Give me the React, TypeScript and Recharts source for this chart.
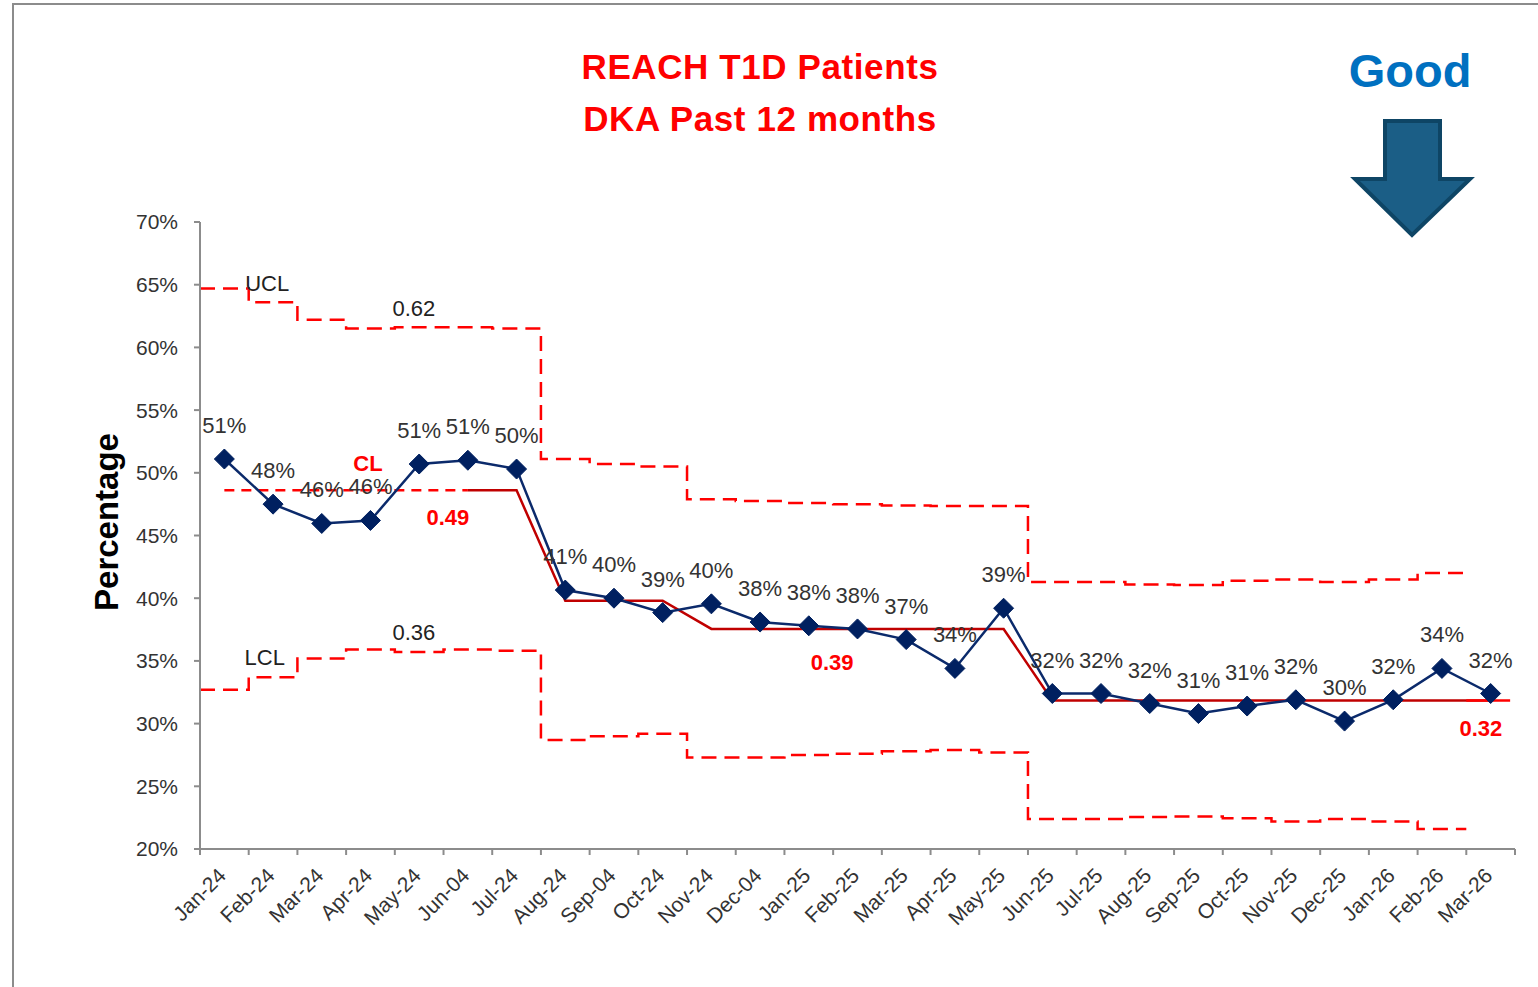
import React from 'react';
import { LineChart, Line, XAxis, YAxis, LabelList, ReferenceDot } from 'recharts';

// ---------- data ----------
const months = ['Jan-24', 'Feb-24', 'Mar-24', 'Apr-24', 'May-24', 'Jun-04', 'Jul-24', 'Aug-24', 'Sep-04', 'Oct-24', 'Nov-24', 'Dec-04', 'Jan-25', 'Feb-25', 'Mar-25', 'Apr-25', 'May-25', 'Jun-25', 'Jul-25', 'Aug-25', 'Sep-25', 'Oct-25', 'Nov-25', 'Dec-25', 'Jan-26', 'Feb-26', 'Mar-26'];
const percentages = [51.1, 47.5, 45.96, 46.2, 50.7, 51.0, 50.3, 40.65, 40.0, 38.85, 39.55, 38.1, 37.8, 37.55, 36.7, 34.4, 39.2, 32.4, 32.4, 31.6, 30.8, 31.4, 31.9, 30.2, 31.9, 34.4, 32.4];
// control limits (no limit plotted for the last month)
const ucl = [64.7, 63.6, 62.2, 61.5, 61.6, 61.6, 61.5, 51.1, 50.7, 50.5, 47.9, 47.75, 47.6, 47.5, 47.4, 47.35, 47.35, 41.3, 41.3, 41.1, 41.05, 41.4, 41.5, 41.3, 41.5, 42.0];
const lcl = [32.7, 33.7, 35.2, 35.9, 35.7, 35.9, 35.8, 28.7, 29.0, 29.2, 27.3, 27.3, 27.5, 27.6, 27.8, 27.9, 27.7, 22.4, 22.4, 22.55, 22.6, 22.45, 22.2, 22.4, 22.2, 21.6];
const centerLine = [48.6, 48.6, 48.6, 48.6, 48.6, 48.6, 48.6, 39.8, 39.8, 39.8, 37.55, 37.55, 37.55, 37.55, 37.55, 37.55, 37.55, 31.85, 31.85, 31.85, 31.85, 31.85, 31.85, 31.85, 31.85, 31.85, 31.85];
const yTicks = [20, 25, 30, 35, 40, 45, 50, 55, 60, 65, 70];
const solidCLStart = 5; // CL drawn solid from Jun-04
const annotations = [
  { text: 'UCL', x: 1.38, y: 65.06, color: '#222', bold: false },
  { text: '0.62', x: 4.39, y: 63.14, color: '#222', bold: false },
  { text: 'CL', x: 3.45, y: 50.78, color: '#FF0000', bold: true },
  { text: '0.49', x: 5.09, y: 46.4, color: '#FF0000', bold: true },
  { text: 'LCL', x: 1.33, y: 35.3, color: '#222', bold: false },
  { text: '0.36', x: 4.39, y: 37.3, color: '#222', bold: false },
  { text: '0.39', x: 12.98, y: 34.9, color: '#FF0000', bold: true },
  { text: '0.32', x: 26.3, y: 29.57, color: '#FF0000', bold: true },
];

// ---------- derived series ----------
const mainData = percentages.map((v, i) => ({ x: i + 0.5, y: v }));
const stepRows = (arr: number[]) => [
  ...arr.map((v, i) => ({ x: i, y: v })),
  { x: arr.length, y: arr[arr.length - 1] },
];
const uclData = stepRows(ucl);
const lclData = stepRows(lcl);
const clDashed = centerLine.slice(0, solidCLStart + 1).map((v, i) => ({ x: i + 0.5, y: v }));
const clSolid = centerLine.map((v, i) => ({ x: i + 0.5, y: v })).slice(solidCLStart);
const clEnd = [
  { x: months.length - 1, y: centerLine[centerLine.length - 1] },
  { x: months.length - 0.1, y: centerLine[centerLine.length - 1] },
];
const xTicks = Array.from({ length: months.length + 1 }, (_, i) => i);

// ---------- layout ----------
const W = 1538;
const H = 987;
const MARGIN = { top: 222, right: 23, bottom: 48, left: 140 };
const Y_AXIS_W = 60;
const X_AXIS_H = 90;
const PLOT_W = W - MARGIN.left - MARGIN.right - Y_AXIS_W;
const HALF_BAND = PLOT_W / months.length / 2;
const FONT = '"Liberation Sans", Arial, sans-serif';

const XTick = (props: any) => {
  const { x, y, payload } = props;
  const i = payload.value;
  if (i >= months.length) return <g />;
  return (
    <g transform={`translate(${x + HALF_BAND + 3},${y + 20})`}>
      <text x={0} y={0} textAnchor="end" transform="rotate(-45)" fontSize={21} fill="#333" fontFamily={FONT}>
        {months[i]}
      </text>
    </g>
  );
};

const Diamond = (props: any) => {
  const { cx, cy, index } = props;
  if (cx == null || cy == null) return <g key={`d-${index}`} />;
  const r = 10;
  return (
    <path
      key={`d-${index}`}
      d={`M${cx},${cy - r}L${cx + r},${cy}L${cx},${cy + r}L${cx - r},${cy}Z`}
      fill="#002060"
      stroke="#002060"
    />
  );
};

export default function App() {
  return (
    <div style={{ position: 'fixed', left: 0, top: 0, width: W, height: H, overflow: 'hidden', background: '#fff' }}>
      <div style={{ position: 'absolute', left: 0, top: 0 }}>
        <LineChart width={W} height={H} margin={MARGIN}>
          <XAxis
            type="number"
            dataKey="x"
            domain={[0, months.length]}
            ticks={xTicks}
            interval={0}
            allowDataOverflow
            height={X_AXIS_H}
            stroke="#8c8c8c"
            strokeWidth={2}
            tickSize={6}
            tick={<XTick />}
          />
          <YAxis
            type="number"
            domain={[20, 70]}
            ticks={yTicks}
            interval={0}
            width={Y_AXIS_W}
            stroke="#8c8c8c"
            strokeWidth={2}
            tickSize={6}
            tickMargin={16}
            tickFormatter={(v: number) => `${v}%`}
            tick={{ fontSize: 21, fill: '#333', fontFamily: FONT }}
            allowDataOverflow
          />
          <Line data={uclData} dataKey="y" type="stepAfter" stroke="#FF0000" strokeWidth={2.5} strokeDasharray="15 8" dot={false} isAnimationActive={false} />
          <Line data={lclData} dataKey="y" type="stepAfter" stroke="#FF0000" strokeWidth={2.5} strokeDasharray="15 8" dot={false} isAnimationActive={false} />
          <Line data={clDashed} dataKey="y" type="linear" stroke="#FF0000" strokeWidth={2.5} strokeDasharray="10 7" dot={false} isAnimationActive={false} />
          <Line data={clSolid} dataKey="y" type="linear" stroke="#C00000" strokeWidth={2.5} dot={false} isAnimationActive={false} />
          <Line data={clEnd} dataKey="y" type="linear" stroke="#FF0000" strokeWidth={2.5} dot={false} isAnimationActive={false} />
          <Line data={mainData} dataKey="y" type="linear" stroke="#0B2A6B" strokeWidth={2.5} dot={<Diamond />} isAnimationActive={false}>
            <LabelList
              dataKey="y"
              position="top"
              offset={26}
              formatter={(v: any) => `${Math.round(Number(v))}%`}
              style={{ fontSize: 22, fill: '#333', fontFamily: FONT }}
            />
          </Line>
          {annotations.map((a) => (
            <ReferenceDot
              key={a.text}
              x={a.x}
              y={a.y}
              r={0}
              shape={(p: any) => (
                <text
                  x={p.cx}
                  y={p.cy}
                  textAnchor="middle"
                  dominantBaseline="central"
                  fontSize={22}
                  fontWeight={a.bold ? 'bold' : 'normal'}
                  fill={a.color}
                  fontFamily={FONT}
                >
                  {a.text}
                </text>
              )}
            />
          ))}
        </LineChart>
      </div>
      <svg width={W} height={H} style={{ position: 'absolute', left: 0, top: 0, pointerEvents: 'none' }}>
        <rect x={13} y={4} width={3000} height={3000} fill="none" stroke="#8c8c8c" strokeWidth={2} />
        <text x={760} y={79} textAnchor="middle" fontSize={35} letterSpacing={0.6} fontWeight="bold" fill="#FF0000" fontFamily={FONT}>
          REACH T1D Patients
        </text>
        <text x={760} y={131} textAnchor="middle" fontSize={35} letterSpacing={0.6} fontWeight="bold" fill="#FF0000" fontFamily={FONT}>
          DKA Past 12 months
        </text>
        <text x={1410} y={87} textAnchor="middle" fontSize={47} fontWeight="bold" fill="#0070C0" fontFamily={FONT}>
          Good
        </text>
        <polygon
          points="1385,121 1440,121 1440,179 1470,179 1412,235 1355,179 1385,179"
          fill="#1B5E86"
          stroke="#0E4565"
          strokeWidth={4}
          strokeLinejoin="miter"
        />
        <text
          x={0}
          y={0}
          transform="translate(118,522) rotate(-90)"
          textAnchor="middle"
          fontSize={33}
          fontWeight="bold"
          fill="#000"
          fontFamily={FONT}
        >
          Percentage
        </text>
      </svg>
    </div>
  );
}
